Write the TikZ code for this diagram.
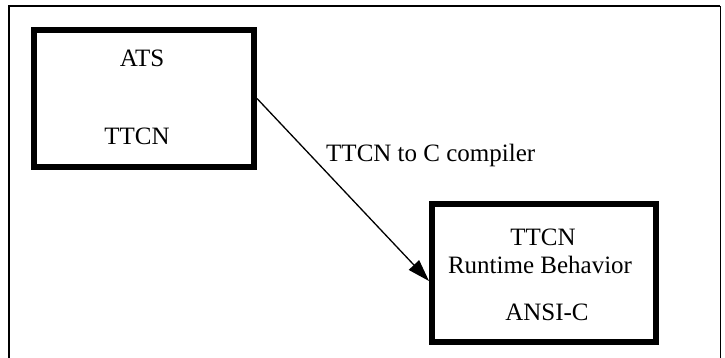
\documentclass[tikz,border=0pt]{standalone}
\usepackage{fontspec}
\setmainfont{Liberation Serif}
\usetikzlibrary{arrows.meta}
\begin{document}
\begin{tikzpicture}[x=1pt,y=-1pt,
  boxnode/.style={draw,line width=6pt,rectangle,inner sep=0pt},
  txt/.style={anchor=base,inner sep=0pt,font=\fontsize{25}{28}\selectfont},
  conn/.style={line width=1.3pt,-{Triangle[length=22pt,width=14pt]}}]
\useasboundingbox (0,0) rectangle (725,358);
% frame
\draw[line width=2pt] (9,362) -- (9,6);
\draw[line width=1.5pt] (8,6) -- (720,6);
\draw[line width=1pt] (720,6) -- (720,362);
% boxes
\node[boxnode,minimum width=220pt,minimum height=137pt] (ats) at (144,98.5) {};
\node[boxnode,minimum width=224pt,minimum height=138pt] (rt) at (544,273) {};
% texts
\node[txt] (t1) at (142,67) {ATS};
\node[txt] (t2) at (137,145) {TTCN};
\node[txt] (t3) at (543,245) {TTCN};
\node[txt] (t4) at (540,273) {Runtime Behavior};
\node[txt] (t5) at (547,320) {ANSI-C};
\node[txt,anchor=base west] (lab) at (326,162) {TTCN to C compiler};
% connector
\draw[conn] (ats.east) -- ([yshift=-8pt]rt.west);
\end{tikzpicture}
\end{document}
